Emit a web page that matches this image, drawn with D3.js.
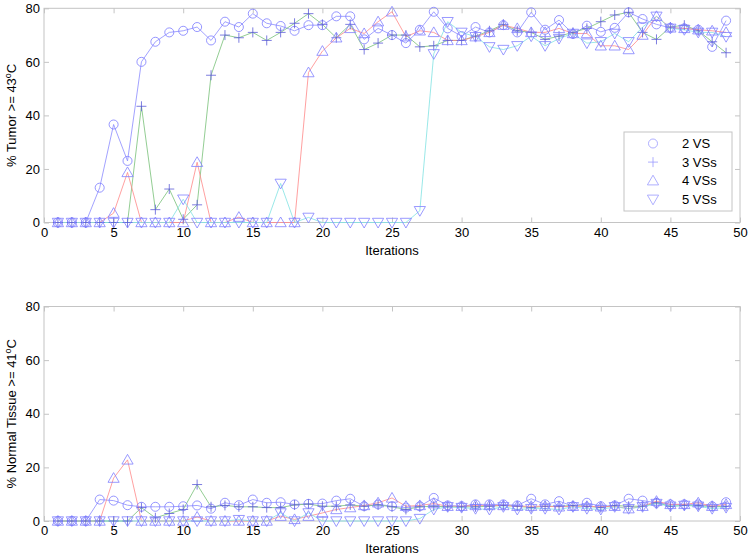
<!DOCTYPE html>
<html>
<head>
<meta charset="utf-8">
<script src="https://cdn.jsdelivr.net/npm/d3@7"></script>
<style>
  body { margin: 0; background: #fff; }
  svg { display: block; font-family: Arial, "Liberation Sans", sans-serif; }
</style>
</head>
<body>
<script>
const width = 750,
  height = 557;

// iterations 1..49
const iterations = d3.range(1, 50);
const seriesNames = ["2 VS", "3 VSs", "4 VSs", "5 VSs"];
const xTicks = [0, 5, 10, 15, 20, 25, 30, 35, 40, 45, 50];
const yTicks = [0, 20, 40, 60, 80];

// top panel: % Tumor >= 43C
const tumor2 = [0, 0, 0, 13, 36.6, 23, 60, 67.5, 71, 71.6, 73, 68, 75, 73, 78, 74.4, 73.4, 71.6, 73.7, 73.7,
  77, 77, 68.4, 72.5, 70, 67, 72, 78.7, 72.5, 69.6, 73, 71, 73.7, 71, 78.5, 72, 75.6, 70.4, 73.5, 71.2,
  72.7, 78.5, 76, 74, 72.7, 72.5, 72, 65.6, 75.4];
const tumor3 = [0, 0, 0, 0, 0, 0, 43.4, 4.8, 12.5, 1.2, 6.6, 55, 70, 69, 71, 68, 71, 74.4, 78, 74,
  69, 74, 64.6, 67, 70, 70, 65.6, 66, 68, 68, 69.6, 71.6, 74, 71.6, 71, 68.4, 69.6, 71, 72.5, 75,
  77.5, 78.5, 71, 68.4, 73, 73.7, 71.6, 67.5, 63.4];
const tumor4 = [0, 0, 0, 0, 3.5, 18.7, 0, 0, 0, 0, 22.5, 0, 0, 2, 0, 0, 0, 0, 56, 64,
  69, 72.5, 70.6, 75, 78.7, 69.4, 71.6, 71, 68, 68, 69.4, 71, 73.7, 72.5, 71, 71, 72.5, 70.6, 70.6, 66,
  66, 64.6, 70, 77, 72.7, 72.5, 72, 71.6, 71];
const tumor5 = [0, 0, 0, 0, 0, 0, 0, 0, 0, 8.7, 0, 0, 0, 0, 0, 0, 14.6, 0, 1.9, 0,
  0, 0, 0, 0, 0, 0, 4.4, 63, 75, 71, 69.4, 65.6, 64.6, 66, 69.6, 66, 68.7, 70.6, 67, 67.5,
  70.6, 67.5, 73, 77, 72.5, 72, 71, 71, 69.4];

// bottom panel: % Normal Tissue >= 41C
const normal2 = [0, 0, 0, 8, 7.6, 5.9, 5.3, 5.3, 5.3, 5.5, 5.8, 4.6, 6.8, 5.9, 8, 6.8, 7, 6.2, 6.4, 6.5,
  7.6, 8.3, 5.5, 6.2, 5.5, 5, 5.5, 8.6, 5.8, 5.5, 6.2, 6.2, 6.2, 5.8, 8.3, 6.2, 7.4, 5.5, 6.8, 5.5,
  5.8, 8.3, 7.6, 6.8, 6.2, 6.2, 6.2, 5.5, 7];
const normal3 = [0, 0, 0, 0, 0, 0, 5, 1.2, 2.8, 4.3, 13.6, 5.3, 5.8, 5.3, 5.3, 5, 5, 6, 6.3, 5.5,
  5.5, 6, 5.5, 6, 5.3, 4.3, 5.3, 5.5, 5.3, 5.3, 5.3, 5.5, 5.8, 5.5, 5, 5.5, 5.5, 5.8, 5.5, 5,
  5.8, 5.5, 5.5, 6.8, 5.5, 5.8, 5.8, 5.3, 5.5];
const normal4 = [0, 0, 0, 0, 16, 22.8, 0, 0, 0, 0, 1.5, 0, 0, 0, 0, 0, 1.8, 0.6, 1.8, 3,
  4.3, 5, 5.8, 6.8, 8.6, 5.5, 5.8, 6.5, 5.5, 5.5, 5.8, 5.8, 5.8, 5.5, 5.5, 5.5, 5.3, 5.5, 5.5, 5.3,
  5.5, 4.6, 5.5, 7.4, 6.2, 6.2, 6.8, 5.5, 6.2];
const normal5 = [0, 0, 0, 0, 0, 0, 0, 0, 0, 0, 0, 0, 0, 0.5, 0, 0, 3, 0, 3, 0,
  0, 0, 0, 0, 0, 0, 0.9, 4.3, 5.3, 5, 4.6, 4.3, 5.3, 4.3, 4.6, 4.6, 4.3, 5.3, 4.6, 4.3,
  5.3, 4.6, 5.3, 6.5, 5.5, 5.8, 5.5, 4.6, 5];

const lineColors = ["#8a8aff", "#77c077", "#ff8888", "#80e2e2"];
const markerColors = ["#7b7bff", "#5c5cd8", "#8080ff", "#8080ff"];
const markerTypes = ["circle", "plus", "up", "down"];

const svg = d3
  .select("body")
  .append("svg")
  .attr("width", width)
  .attr("height", height);

function markerPath(type) {
  if (type === "circle") return d3.symbol(d3.symbolCircle, 64)();
  if (type === "plus") return "M-5,0L5,0M0,-5L0,5";
  if (type === "up") return "M0,-5.5L5.6,4.2L-5.6,4.2Z";
  return "M0,5.5L5.6,-4.2L-5.6,-4.2Z";
}

function drawPanel(top, bottom, series, yLabel, withLegend) {
  const left = 44,
    right = 740;

  const xScale = d3.scaleLinear().domain([0, 50]).range([left, right]);
  const yScale = d3.scaleLinear().domain([0, 80]).range([bottom, top]);

  const g = svg.append("g");

  // frame
  g.append("rect")
    .attr("x", left)
    .attr("y", top)
    .attr("width", right - left)
    .attr("height", bottom - top)
    .attr("fill", "none")
    .attr("stroke", "#c4c4c4")
    .attr("stroke-width", 1);

  // axes with inward ticks on all sides
  const axisStyle = (sel) => {
    sel.select(".domain").remove();
    sel.selectAll(".tick line").attr("stroke", "#c4c4c4");
    sel.selectAll("text").attr("fill", "#000").attr("font-size", 13);
  };

  g.append("g")
    .attr("transform", `translate(0,${bottom})`)
    .call(d3.axisBottom(xScale).tickValues(xTicks).tickSizeInner(-5).tickSizeOuter(0).tickPadding(5))
    .call(axisStyle)
    .attr("font-family", null);

  g.append("g")
    .attr("transform", `translate(0,${top})`)
    .call(d3.axisTop(xScale).tickValues(xTicks).tickSizeInner(-5).tickSizeOuter(0).tickFormat(""))
    .call(axisStyle);

  g.append("g")
    .attr("transform", `translate(${left},0)`)
    .call(d3.axisLeft(yScale).tickValues(yTicks).tickSizeInner(-5).tickSizeOuter(0).tickPadding(4))
    .call(axisStyle)
    .attr("font-family", null);

  g.append("g")
    .attr("transform", `translate(${right},0)`)
    .call(d3.axisRight(yScale).tickValues(yTicks).tickSizeInner(-5).tickSizeOuter(0).tickFormat(""))
    .call(axisStyle);

  // x label
  g.append("text")
    .attr("x", (left + right) / 2)
    .attr("y", bottom + 32)
    .attr("text-anchor", "middle")
    .attr("font-size", 13)
    .text("Iterations");

  // y label
  g.append("text")
    .attr("transform", `translate(16,${(top + bottom) / 2}) rotate(-90)`)
    .attr("text-anchor", "middle")
    .attr("font-size", 13)
    .html(yLabel);

  const line = d3
    .line()
    .x((d, i) => xScale(iterations[i]))
    .y((d) => yScale(d));

  series.forEach((values, s) => {
    g.append("path")
      .attr("d", line(values))
      .attr("fill", "none")
      .attr("stroke", lineColors[s])
      .attr("stroke-width", 0.8);
  });

  series.forEach((values, s) => {
    g.append("g")
      .selectAll("path")
      .data(values)
      .enter()
      .append("path")
      .attr("transform", (d, i) => `translate(${xScale(iterations[i])},${yScale(d)})`)
      .attr("d", markerPath(markerTypes[s]))
      .attr("fill", "none")
      .attr("stroke", markerColors[s])
      .attr("stroke-width", 0.8);
  });

  if (withLegend) {
    const legend = g.append("g").attr("transform", "translate(624,132)");
    legend
      .append("rect")
      .attr("width", 108)
      .attr("height", 79)
      .attr("fill", "#fff")
      .attr("stroke", "#c4c4c4");
    seriesNames.forEach((name, s) => {
      const row = legend.append("g").attr("transform", `translate(0,${11.5 + s * 18.6})`);
      row.append("path")
        .attr("transform", "translate(29,0)")
        .attr("d", markerPath(markerTypes[s]))
        .attr("fill", "none")
        .attr("stroke", "#9a9aff")
        .attr("stroke-width", 0.8);
      row.append("text")
        .attr("x", 58)
        .attr("dy", "0.35em")
        .attr("font-size", 13)
        .text(name);
    });
  }
}

drawPanel(8.3, 222.5, [tumor2, tumor3, tumor4, tumor5], "% Tumor &gt;= 43<tspan dy='-5' font-size='9'>o</tspan><tspan dy='5'>C</tspan>", true);
drawPanel(306.5, 521, [normal2, normal3, normal4, normal5], "% Normal Tissue &gt;= 41<tspan dy='-5' font-size='9'>o</tspan><tspan dy='5'>C</tspan>", false);
</script>
</body>
</html>
